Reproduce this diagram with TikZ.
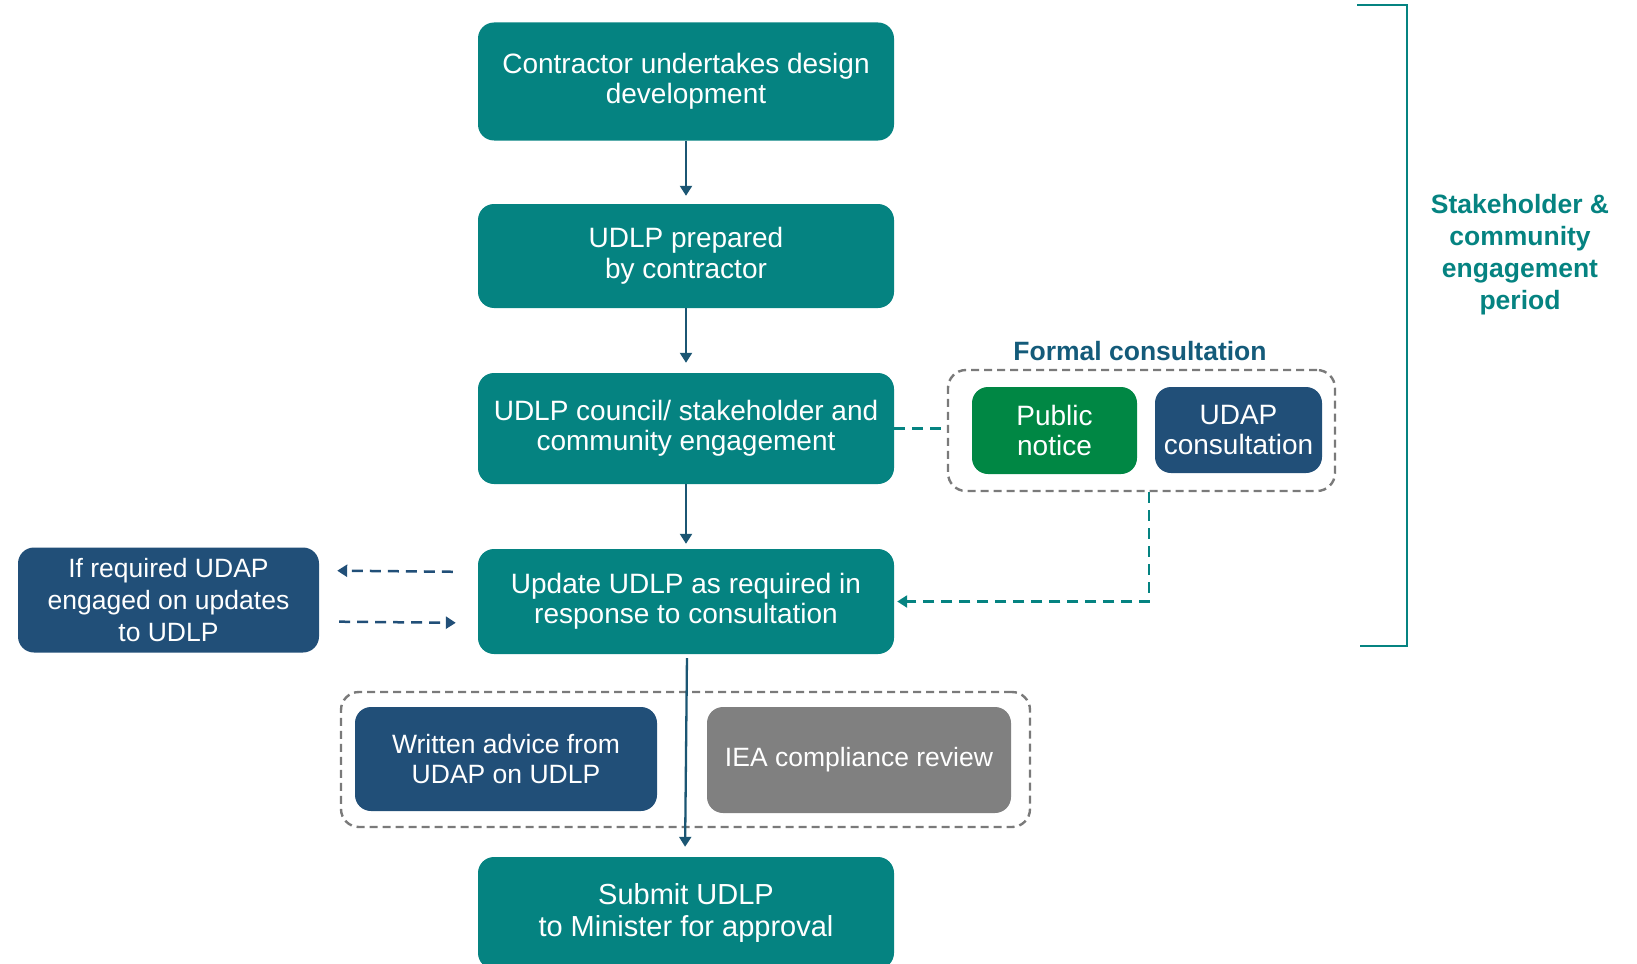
\documentclass[tikz,border=0pt]{standalone}
\usepackage{fontspec}
\setmainfont{Liberation Sans}
\usetikzlibrary{arrows.meta,calc}
\definecolor{teal1}{HTML}{058381}
\definecolor{navy1}{HTML}{214F78}
\definecolor{green1}{HTML}{008744}
\definecolor{gray1}{HTML}{808080}
\definecolor{arr}{HTML}{1B5673}
\definecolor{fc}{HTML}{145B7A}
\definecolor{dgray}{HTML}{7A7A7A}
\begin{document}
\begin{tikzpicture}[x=1pt,y=-1pt,
  box/.style={rectangle, rounded corners=16pt, draw=none, text=white, align=center,
     font=\fontsize{28}{30.5}\selectfont, inner sep=0pt},
  mainbox/.style={box, fill=teal1, minimum width=416pt},
  navybox/.style={box, fill=navy1},
  arrline/.style={draw=arr, line width=2.3pt, -{Triangle[length=10pt,width=12pt]}},
  tdash/.style={draw=teal1, line width=2.5pt, dash pattern=on 11pt off 7pt},
  ndash/.style={draw=navy1, line width=2.5pt, dash pattern=on 11pt off 7pt},
  group/.style={rectangle, rounded corners=18pt, draw=dgray, line width=2.4pt, dash pattern=on 8pt off 5pt},
  lbl/.style={font=\bfseries\fontsize{26.5}{32}\selectfont, align=center}
]
\useasboundingbox (0,0) rectangle (1637,963);

\node[mainbox, minimum height=118pt] (b1) at (686,81.5) {Contractor undertakes design\\development};
\node[mainbox, minimum height=104pt] (b2) at (686,256) {UDLP prepared\\by contractor};
\node[mainbox, minimum height=111pt] (b3) at (686,428.5) {UDLP council/ stakeholder and\\community engagement};
\node[mainbox, minimum height=105pt] (b4) at (686,601.5) {Update UDLP as required in\\response to consultation};
\node[mainbox, minimum height=112pt, font=\fontsize{29}{32.5}\selectfont] (b5) at (686,913) {Submit UDLP\\to Minister for approval};

\node[navybox, minimum width=301pt, minimum height=105pt, font=\fontsize{26.5}{32}\selectfont] (L) at (168.5,600) {If required UDAP\\engaged on updates\\to UDLP};

\node[group, minimum width=387pt, minimum height=121pt] (F) at (1141.5,430.5) {};
\node[box, fill=green1, minimum width=165pt, minimum height=87pt] (P) at (1054.5,430.5) {Public\\notice};
\node[navybox, minimum width=167pt, minimum height=86pt] (U) at (1238.5,430) {UDAP\\consultation};
\node[lbl, text=fc] (FL) at (1140,351) {Formal consultation};

\node[group, minimum width=689pt, minimum height=135pt] (D) at (685.5,759.5) {};
\node[navybox, minimum width=302pt, minimum height=104pt, font=\fontsize{26.5}{29.5}\selectfont] (W) at (506,759) {Written advice from\\UDAP on UDLP};
\node[box, fill=gray1, minimum width=304pt, minimum height=106pt, font=\fontsize{26.5}{29.5}\selectfont] (I) at (859,760) {IEA compliance review};

\node[lbl, text=teal1] (S) at (1520,255) {Stakeholder \&\\community\\engagement\\period};

% main arrows
\draw[arrline, shorten >=8pt] (b1.south) -- (b2.north);
\draw[arrline, shorten >=10pt] (b2.south) -- (b3.north);
\draw[arrline, shorten >=5pt] (b3.south) -- (b4.north);
\draw[arrline, shorten <=4pt, shorten >=10pt] ([xshift=1pt]b4.south) -- ([xshift=-1pt]b5.north);

% formal consultation links
\draw[tdash] (b3.east) -- (b3.east -| F.west);
\draw[tdash, -{Triangle[length=10pt,width=12pt]}, shorten >=3pt] ([xshift=7.5pt]F.south) |- (b4.east);

% left arrows
\draw[ndash, -{Triangle[length=10pt,width=12pt]}, shorten <=25pt, shorten >=18pt] ([yshift=29.5pt]b4.west) -- ([yshift=29.5pt]L.east);
\draw[ndash, -{Triangle[length=10pt,width=12pt]}, shorten <=20pt, shorten >=22pt] ([yshift=-21.5pt]L.east) -- ([yshift=-21.5pt]b4.west);

% bracket
\draw[teal1, line width=2pt] (1357,5) -- (1407,5) -- (1407,646) -- (1360,646);
\end{tikzpicture}
\end{document}
